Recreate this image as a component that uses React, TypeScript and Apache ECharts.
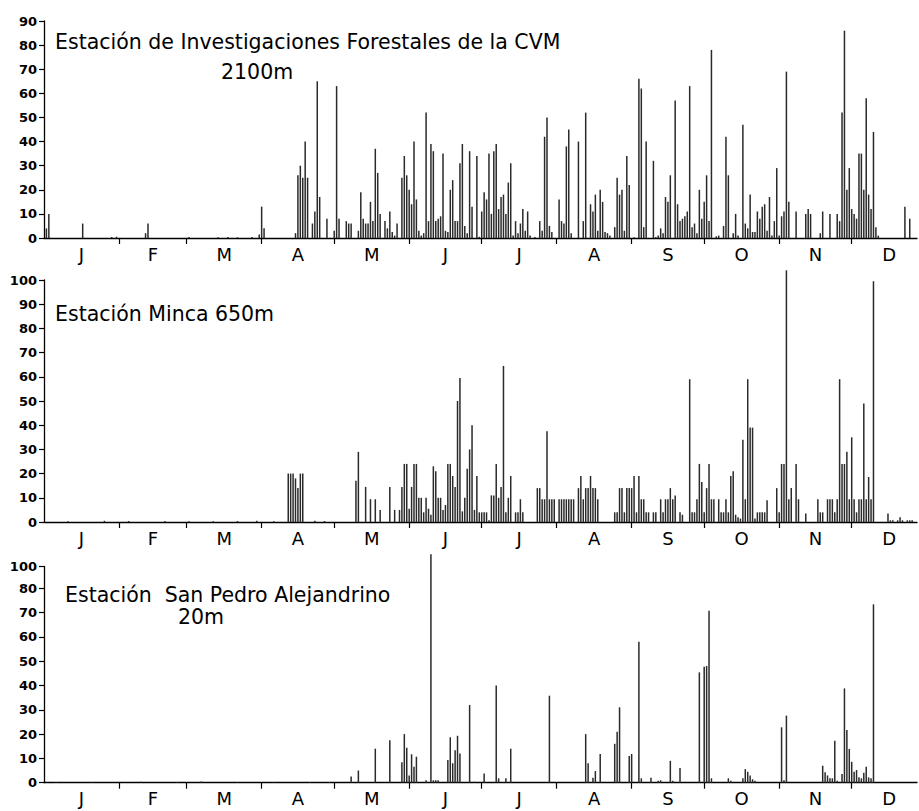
import React, { useEffect, useRef } from "react";
import * as echarts from "echarts";

// Months (day-of-year boundaries and axis letters)
const monthLetters = ["J", "F", "M", "A", "M", "J", "J", "A", "S", "O", "N", "D"];
const monthStarts = [0, 31, 59, 90, 120, 151, 181, 212, 243, 273, 304, 334, 365];
const monthMids = monthLetters.map((_, i) => (monthStarts[i] + monthStarts[i + 1]) / 2);
const monthBounds = monthStarts.slice(1, 12);

// Y tick values
const ticks90 = [0, 10, 20, 30, 40, 50, 60, 70, 80, 90];
const ticks100 = [0, 10, 20, 30, 40, 50, 60, 70, 80, 90, 100];
const ticksSanPedro = [0, 10, 20, 30, 40, 50, 60, 70, 80, 89];

// Daily rainfall [day of year, mm] — Estación de Investigaciones Forestales de la CVM, 2100 m
const forestalesRain: [number, number][] = [
  [1, 4], [2, 10], [16, 6], [28, 0.4], [30, 0.5], [42, 2], [43, 6], [60, 0.4], [72, 0.3], [76, 0.4], [80, 0.3], [86, 0.4], [89, 1.5], [90, 13], [91, 4],
  [104, 2], [105, 26], [106, 30], [107, 25], [108, 40], [109, 25], [111, 6], [112, 11], [113, 65], [114, 17], [117, 8], [120, 3], [121, 63], [122, 8],
  [125, 7], [126, 6], [127, 6], [130, 3], [131, 19], [132, 8], [133, 6], [134, 6], [135, 15], [136, 7], [137, 37], [138, 27], [139, 10],
  [141, 7], [142, 4], [143, 11], [144, 2.5], [145, 1], [146, 6],
  [148, 25], [149, 34], [150, 26], [151, 20], [152, 14], [153, 40], [154, 16], [155, 3], [156, 1], [157, 2], [158, 52], [159, 7], [160, 39], [161, 36], [162, 7], [163, 8], [164, 9], [165, 35], [166, 3], [167, 2.5], [168, 20], [169, 24], [170, 7], [171, 7], [172, 31], [173, 39], [174, 5], [175, 2], [176, 36], [177, 13], [179, 34], [180, 0.5], [181, 11], [182, 19], [183, 16], [184, 35], [185, 10], [186, 36], [187, 39], [188, 12], [189, 17], [190, 18], [191, 10], [192, 23], [193, 31], [194, 1], [195, 7], [196, 2], [197, 6], [198, 12], [199, 3], [200, 11], [201, 1], [203, 0.4], [205, 7], [206, 3], [207, 42], [208, 50], [209, 5], [210, 2.5],
  [213, 16], [214, 7], [215, 6], [216, 38], [217, 45], [218, 2], [221, 40], [223, 7], [224, 52], [226, 14], [227, 11], [228, 18], [229, 3], [230, 20], [231, 15], [232, 2.5], [233, 2], [234, 1], [236, 4.5], [237, 25], [238, 18], [239, 20], [240, 3], [241, 34], [242, 22], [244, 0.3],
  [246, 66], [247, 62], [248, 4.5], [249, 40], [252, 32], [253, 0.4], [254, 1], [255, 4], [256, 2], [257, 17], [258, 15], [259, 26], [261, 57], [262, 14], [263, 7], [264, 8], [265, 9], [266, 11], [267, 63], [268, 4.5], [269, 6], [270, 2], [271, 20], [272, 8], [273, 15], [274, 26], [275, 7], [276, 78],
  [278, 0.7], [279, 1], [281, 5], [282, 42], [283, 26], [285, 2], [286, 10], [287, 1], [289, 47], [290, 6], [291, 4], [292, 18], [293, 2.5], [294, 2.5], [295, 11], [296, 8], [297, 13], [298, 14], [299, 3], [300, 17], [301, 1], [302, 7], [303, 29], [304, 1], [305, 9], [306, 11], [307, 69], [308, 15],
  [311, 11], [315, 10], [316, 12], [317, 10], [321, 2], [322, 11], [325, 10], [328, 10], [329, 7], [330, 52], [331, 86], [332, 20], [333, 29], [334, 12], [335, 10], [336, 8], [337, 35], [338, 35], [339, 20], [340, 58], [341, 18], [342, 12], [343, 44], [344, 4.5], [345, 1], [356, 13], [358, 8],
];

// Estación Minca, 650 m
const mincaRain: [number, number][] = [
  [10, 0.3], [25, 0.5], [35, 0.4], [50, 0.4], [60, 0.3], [70, 0.3], [80, 0.4], [88, 0.5], [95, 0.3],
  [101, 20], [102, 20], [103, 20], [104, 18], [105, 14], [106, 20], [107, 20], [112, 0.5], [116, 0.4],
  [129, 17], [130, 29], [133, 14.5], [135, 9.4], [137, 9.4], [139, 5],
  [143, 14.5], [145, 5], [147, 5], [148, 14.5], [149, 24], [150, 24], [151, 5.5], [152, 14.5], [153, 24], [154, 24], [155, 10], [156, 10], [157, 4], [158, 10], [159, 5.5], [160, 3], [161, 23], [162, 21], [163, 10], [164, 10], [165, 5], [166, 7], [167, 24], [168, 24], [169, 19], [170, 14.5], [171, 50], [172, 59.5], [173, 4.4], [174, 10], [175, 22], [176, 30], [177, 40], [178, 5], [179, 19], [180, 4], [181, 4], [182, 4], [183, 4], [184, 0.7], [185, 11], [186, 11], [187, 24], [188, 10], [189, 14.5], [190, 64.5], [191, 4], [192, 10], [193, 19], [195, 4], [196, 4], [197, 9.4], [198, 4],
  [204, 14], [205, 14], [206, 9.4], [207, 9.4], [208, 37.5], [209, 9.4], [210, 9.4], [211, 9.4], [213, 9.4], [214, 9.4], [215, 9.4], [216, 9.4], [217, 9.4], [218, 9.4], [219, 9.4], [221, 14], [222, 19], [223, 9.4], [224, 14], [225, 14], [226, 19], [227, 14], [228, 14], [229, 9.4],
  [236, 4], [237, 4], [238, 14], [239, 14], [240, 4], [241, 14], [242, 14], [243, 14], [244, 19], [245, 4], [246, 19], [247, 9.4], [248, 9.4], [249, 4], [250, 4], [252, 4], [253, 4], [255, 9.4], [256, 4], [257, 9.4], [258, 9.4], [259, 14], [260, 9.4], [261, 11],
  [263, 4], [264, 3], [267, 59], [268, 4], [269, 4], [270, 9.4], [271, 24], [272, 16.5], [273, 4], [274, 14], [275, 24], [276, 9.4], [277, 9.4],
  [279, 9.4], [280, 4], [281, 4], [282, 9.4], [283, 4], [284, 19], [285, 21], [286, 3], [287, 2], [288, 1.4], [289, 34], [290, 9.4], [291, 59], [292, 39], [293, 39], [294, 1.4], [295, 4], [296, 4], [297, 4], [298, 4], [299, 9],
  [303, 14], [304, 4], [305, 24], [306, 24], [307, 104], [308, 9.4], [309, 14], [311, 24], [312, 9.4], [315, 3.5],
  [320, 9.4], [321, 4], [322, 4], [324, 9.4], [325, 9.4], [326, 9.4], [327, 4], [328, 9.4], [329, 59], [330, 24], [331, 24], [332, 29], [333, 9.4], [334, 35], [335, 9.4], [336, 4], [337, 9.4], [338, 9.4], [339, 49], [340, 9.4], [341, 18.6], [342, 9.4], [343, 99.5],
  [349, 3.5], [350, 0.7], [351, 0.7], [353, 0.7], [354, 2], [355, 0.7], [357, 0.7], [358, 0.7], [359, 0.7],
];

// Estación San Pedro Alejandrino, 20 m
const sanPedroRain: [number, number][] = [
  [5, 0.3], [20, 0.3], [40, 0.4], [55, 0.3], [65, 0.5], [80, 0.3], [95, 0.3], [110, 0.3], [118, 0.3],
  [127, 2.5], [130, 5], [137, 14], [143, 17.5], [148, 8.4], [149, 20], [150, 14.4], [151, 3], [152, 11.7], [153, 6.6], [154, 10.7], [158, 1], [160, 94], [161, 1], [162, 1], [163, 1],
  [167, 9.3], [168, 18.7], [169, 8], [170, 13.4], [171, 19.3], [172, 12], [176, 32], [178, 0.4], [182, 3.8], [187, 40], [188, 1.8], [191, 1.8], [193, 14],
  [209, 35.8], [224, 20], [225, 8], [227, 2], [228, 4.8], [230, 11.8], [236, 16], [237, 21], [238, 31], [242, 11], [243, 11.8], [246, 58], [247, 1.8], [251, 2], [254, 0.8], [255, 1], [259, 9], [260, 0.8], [263, 6],
  [271, 45.4], [273, 47.7], [274, 48], [275, 70.8], [276, 1.8], [283, 1.8], [284, 0.8], [289, 1.8], [290, 5.6], [291, 4.5], [292, 3], [293, 1.4], [294, 0.8],
  [305, 22.8], [306, 1], [307, 27.6],
  [322, 7], [323, 4.3], [324, 3], [325, 1.8], [326, 1.8], [327, 17.3], [328, 0.8], [330, 3.6], [331, 38.8], [332, 21.7], [333, 13.9], [334, 8.6], [335, 4.5], [336, 5.2], [337, 2.2], [338, 1.8], [339, 4.1], [340, 6.6], [341, 2.2], [342, 1.8], [343, 73.4],
];

const titleFont = '20.5px "DejaVu Sans"';

export default function App() {
  const ref = useRef<HTMLDivElement>(null);

  useEffect(() => {
    if (!ref.current) return;
    const chart = echarts.init(ref.current, undefined, { renderer: "svg" });

    const grids = [
      { left: 44, top: 21, width: 873, height: 217 },
      { left: 44, top: 280, width: 873, height: 242 },
      { left: 44, top: 566.4, width: 873, height: 216.3 },
    ];

    const xAxis = grids.map((_, i) => ({
      type: "value",
      gridIndex: i,
      min: 0,
      max: 361,
      splitLine: { show: false },
      axisLine: { show: true, lineStyle: { color: "#000", width: 1.3 } },
      axisTick: { show: true, customValues: monthBounds, length: 6, lineStyle: { color: "#000", width: 1.2 } },
      axisLabel: {
        customValues: monthMids,
        margin: 7,
        color: "#000",
        fontFamily: "DejaVu Sans",
        fontSize: 18,
        formatter: (v: number) => {
          const idx = monthMids.findIndex((m) => Math.abs(m - v) < 0.01);
          return idx >= 0 ? monthLetters[idx] : "";
        },
      },
    }));

    const yCommon = {
      type: "value",
      min: 0,
      interval: 10,
      splitLine: { show: false },
      axisLine: { show: true, lineStyle: { color: "#000", width: 1.3 } },
      axisTick: { show: true, length: 5, lineStyle: { color: "#000", width: 1.2 } },
    };
    const yLabel = {
      margin: 7,
      color: "#000",
      fontFamily: "DejaVu Sans",
      fontWeight: "bold",
      fontSize: 13,
    };

    const yAxis = [
      { ...yCommon, gridIndex: 0, max: 90, axisTick: { ...yCommon.axisTick, customValues: ticks90 }, axisLabel: { ...yLabel, customValues: ticks90 } },
      { ...yCommon, gridIndex: 1, max: 100, axisTick: { ...yCommon.axisTick, customValues: ticks100 }, axisLabel: { ...yLabel, customValues: ticks100 } },
      {
        ...yCommon,
        gridIndex: 2,
        max: 89,
        axisTick: { ...yCommon.axisTick, customValues: ticksSanPedro },
        axisLabel: { ...yLabel, customValues: ticksSanPedro, formatter: (v: number) => (v > 85 ? "100" : String(v)) },
      },
    ];

    const datasets = [forestalesRain, mincaRain, sanPedroRain];
    const series = datasets.map((d, i) => ({
      type: "bar",
      xAxisIndex: i,
      yAxisIndex: i,
      data: d,
      barWidth: 1.5,
      clip: false,
      silent: true,
      itemStyle: { color: "#2a2a2a" },
    }));

    const txt = (text: string, x: number, y: number) => ({
      type: "text",
      x,
      y,
      silent: true,
      style: { text, font: titleFont, fill: "#000", textAlign: "left", textVerticalAlign: "middle" },
    });

    chart.setOption({
      animation: false,
      backgroundColor: "#fff",
      grid: grids,
      xAxis,
      yAxis,
      series,
      graphic: [
        txt("Estación de Investigaciones Forestales de la CVM", 55, 42),
        txt("2100m", 221, 72),
        txt("Estación Minca 650m", 55, 314),
        txt("Estación  San Pedro Alejandrino", 65, 595),
        txt("20m", 178, 617),
      ],
    });

    return () => chart.dispose();
  }, []);

  return <div ref={ref} style={{ position: "absolute", left: 0, top: 0, width: 919, height: 811 }} />;
}
